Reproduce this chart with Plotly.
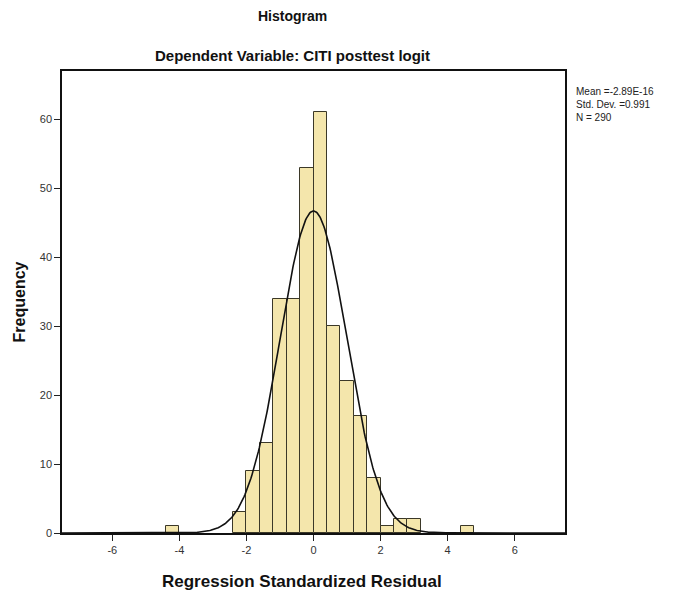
import numpy as np
import plotly.graph_objects as go

# Data (bin width 0.4)
bin_left = [-4.4, -2.4, -2.0, -1.6, -1.2, -0.8, -0.4, 0.0, 0.4, 0.8, 1.2, 1.6, 2.0, 2.4, 2.8, 4.4]
counts   = [1, 3, 9, 13, 34, 34, 53, 61, 30, 22, 17, 8, 1, 2, 2, 1]
bin_width = 0.4
mean_val = -2.89e-16
sd_val = 0.991
n_val = 290
x_ticks = [-6, -4, -2, 0, 2, 4, 6]
y_ticks = [0, 10, 20, 30, 40, 50, 60]

centers = [b + bin_width / 2 for b in bin_left]

# Fitted normal curve (from the reported mean / sd / N)
xc = np.linspace(-7.5, 7.5, 600)
yc = n_val * bin_width * np.exp(-0.5 * ((xc - mean_val) / sd_val) ** 2) / (sd_val * np.sqrt(2 * np.pi))

fig = go.Figure()
fig.add_trace(go.Bar(
    x=centers, y=counts, width=bin_width,
    marker=dict(color="#F4E6AC", line=dict(color="#3b3828", width=1)),
    showlegend=False, hoverinfo="x+y"
))
fig.add_trace(go.Scatter(
    x=xc, y=yc, mode="lines",
    line=dict(color="#111111", width=1.6),
    showlegend=False, hoverinfo="skip"
))

FONT = "Liberation Sans, Arial, sans-serif"
L, R, T, B = 62, 113, 71, 71
W, H = 678, 604
ph = H - T - B
pw = W - L - R

def px_x(px):
    return (px - L) / pw

def px_y(py):
    return (H - B - py) / ph

stats_text = "<br>".join(["Mean =-2.89E-16", f"Std. Dev. ={sd_val:.3f}", f"N = {n_val}"])

annotations = [
    dict(text="<b>Histogram</b>", x=px_x(292), y=px_y(16), xref="paper", yref="paper",
         showarrow=False, xanchor="center", yanchor="middle",
         font=dict(family=FONT, size=14, color="#111111")),
    dict(text="<b>Dependent Variable: CITI posttest logit</b>", x=px_x(292), y=px_y(56),
         xref="paper", yref="paper", showarrow=False, xanchor="center", yanchor="middle",
         font=dict(family=FONT, size=15, color="#111111")),
    dict(text=stats_text, x=px_x(574), y=px_y(84), xref="paper", yref="paper",
         showarrow=False, xanchor="left", yanchor="top", align="left",
         font=dict(family=FONT, size=10, color="#222222")),
    dict(text="<b>Regression Standardized Residual</b>", x=px_x(302), y=px_y(581),
         xref="paper", yref="paper", showarrow=False, xanchor="center", yanchor="middle",
         font=dict(family=FONT, size=17, color="#111111")),
]

fig.update_layout(
    width=W, height=H,
    margin=dict(l=L, r=R, t=T, b=B),
    paper_bgcolor="white", plot_bgcolor="white",
    bargap=0,
    annotations=annotations,
    xaxis=dict(
        range=[-7.5, 7.5], tickvals=x_ticks, ticktext=[str(v) for v in x_ticks],
        showgrid=False, zeroline=False,
        showline=True, linecolor="#111111", linewidth=1.5, mirror=True,
        ticks="outside", ticklen=6, tickcolor="#222222",
        tickfont=dict(family=FONT, size=11, color="#333333"),
    ),
    yaxis=dict(
        range=[0, 67], tickvals=y_ticks, ticktext=[str(v) for v in y_ticks],
        showgrid=False, zeroline=False,
        showline=True, linecolor="#111111", linewidth=1.5, mirror=True,
        ticks="outside", ticklen=6, tickcolor="#222222",
        tickfont=dict(family=FONT, size=11, color="#333333"),
        title=dict(text="<b>Frequency</b>", standoff=10,
                   font=dict(family=FONT, size=16, color="#111111")),
    ),
)

fig.write_html("out.html")
